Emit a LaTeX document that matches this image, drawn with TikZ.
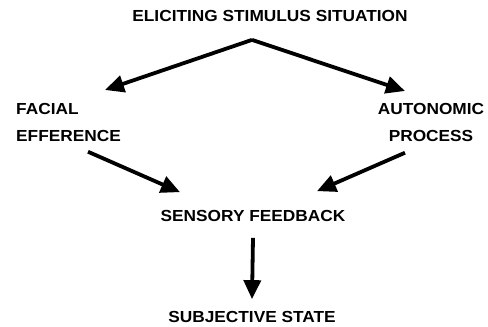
\documentclass[tikz,border=0pt]{standalone}
\usepackage{fontspec}
\setmainfont[FakeStretch=1.08]{Liberation Sans}
\usetikzlibrary{positioning,arrows.meta}

\begin{document}
\begin{tikzpicture}[
    x=1pt,y=-1pt,
    every node/.style={font=\bfseries\fontsize{16}{27}\selectfont,inner sep=0pt},
    term/.style={align=center},
    arrow/.style={-{Triangle[length=19pt,width=17pt]},line width=3.8pt}
]
\useasboundingbox (0,0) rectangle (488,327);
\node[term] (top) at (270,16) {ELICITING STIMULUS SITUATION};
\node[term,align=left,anchor=north west] (facial) at (16,103) {FACIAL\\EFFERENCE};
\node[term,anchor=north] (auto) at (431,103) {AUTONOMIC\\PROCESS};
\node[term] (feed) at (253,216) {SENSORY FEEDBACK};
\node[term] (subj) at (252,317) {SUBJECTIVE STATE};
\coordinate (apex) at ([xshift=-18pt,yshift=-18pt]top.south);
\draw[arrow] (apex) -- ([xshift=89pt,yshift=13pt]facial.north west);
\draw[arrow] (apex) -- ([xshift=-26pt,yshift=12pt]auto.north);
\draw[arrow] ([xshift=72pt,yshift=-10pt]facial.south west) -- ([xshift=-73pt,yshift=18pt]feed.north);
\draw[arrow] ([xshift=-26pt,yshift=-11pt]auto.south) -- ([xshift=64pt,yshift=19pt]feed.north);
\draw[arrow] ([yshift=-16pt]feed.south) -- ([yshift=12pt]subj.north);
\end{tikzpicture}
\end{document}
